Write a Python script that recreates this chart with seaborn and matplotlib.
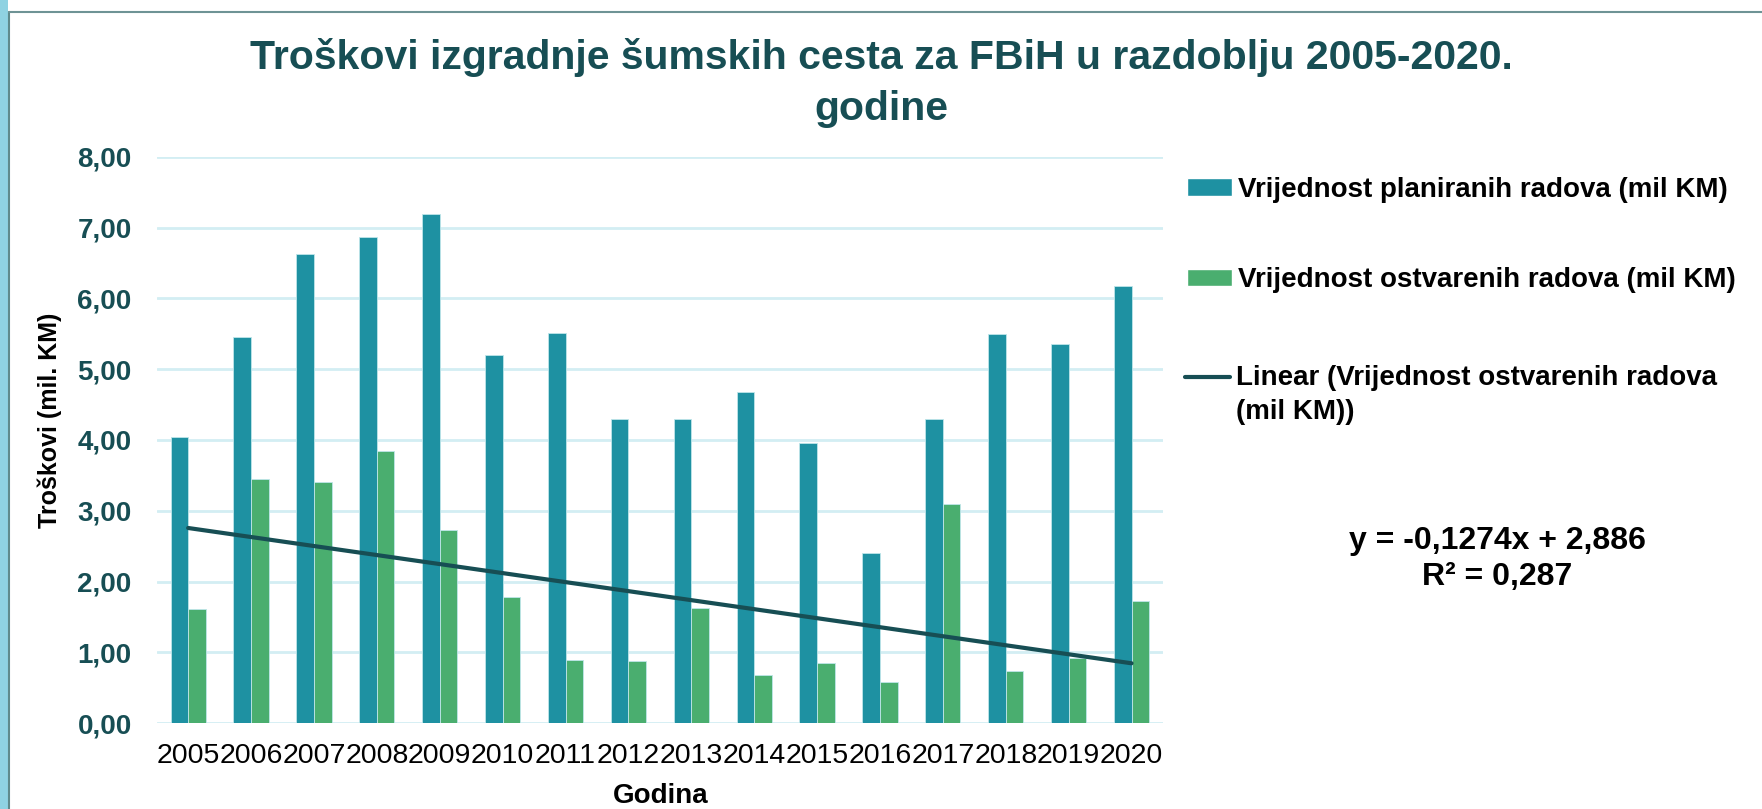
import numpy as np
import pandas as pd
import matplotlib.pyplot as plt
from matplotlib.patches import Patch, Rectangle
from matplotlib.lines import Line2D
from matplotlib.legend_handler import HandlerLine2D
import seaborn as sns

sns.set_theme(style="white")
plt.rcParams['font.family'] = ['Liberation Sans', 'DejaVu Sans']

# ---------- data ----------
years = ['2005', '2006', '2007', '2008', '2009', '2010', '2011', '2012',
         '2013', '2014', '2015', '2016', '2017', '2018', '2019', '2020']
planned = [4.04, 5.45, 6.63, 6.87, 7.19, 5.20, 5.51, 4.29,
           4.30, 4.68, 3.96, 2.41, 4.30, 5.50, 5.35, 6.17]
realized = [1.61, 3.45, 3.40, 3.84, 2.73, 1.79, 0.90, 0.88,
            1.63, 0.68, 0.85, 0.59, 3.10, 0.74, 0.92, 1.73]
series = ['Vrijednost planiranih radova (mil KM)',
          'Vrijednost ostvarenih radova (mil KM)']
trend_label = 'Linear (Vrijednost ostvarenih radova\n(mil KM))'
y_ticks = [0, 1, 2, 3, 4, 5, 6, 7, 8]
slope, intercept, r2 = -0.1274, 2.886, 0.287

BLUE = '#1e91a2'
GREEN = '#4aae6f'
DARK = '#174e54'
GRID = '#d3eef3'

df = pd.DataFrame({
    'Godina': years * 2,
    'serija': [series[0]] * len(years) + [series[1]] * len(years),
    'vrijednost': planned + realized,
})

W, H = 1762, 809
fig = plt.figure(figsize=(W / 100, H / 100), dpi=100)
ax = fig.add_axes([156.7 / W, 1 - 723.3 / H, (1163 - 156.7) / W, (723.3 - 156.7) / H])

sns.barplot(data=df, x='Godina', y='vrijednost', hue='serija', hue_order=series,
            palette={series[0]: BLUE, series[1]: GREEN}, width=0.56, gap=0,
            saturation=1, edgecolor='#bfe6ea', linewidth=0.6, legend=False, ax=ax)

# linear trend of realized values
sns.regplot(x=np.arange(len(years)), y=realized, scatter=False, ci=None,
            truncate=True, color=DARK, line_kws={'linewidth': 3}, ax=ax)

ax.set_xlim(-0.5, len(years) - 0.5)
ax.set_ylim(0, 8)
ax.set_yticks(y_ticks)
ax.set_yticklabels([f'{v:.2f}'.replace('.', ',') for v in y_ticks],
                   fontsize=20, fontweight='bold', color=DARK)
ax.set_xticks(range(len(years)))
ax.set_xticklabels(years, fontsize=20.5, color='black')
ax.tick_params(axis='y', length=0, pad=18)
ax.tick_params(axis='x', length=0, pad=14)
ax.yaxis.grid(True, color=GRID, linewidth=2)
ax.set_axisbelow(True)
for s in ax.spines.values():
    s.set_visible(False)

ax.set_xlabel('Godina', fontsize=20, fontweight='bold', color='black')
ax.set_ylabel('Troškovi (mil. KM)', fontsize=18, fontweight='bold', color='black')
ax.xaxis.label.set_va('center')
ax.yaxis.label.set_va('center')
ax.xaxis.set_label_coords(0.501, -0.128)
ax.yaxis.set_label_coords(-0.106, 0.534)

fig.text(0.5, 1 - 83 / H, 'Troškovi izgradnje šumskih cesta za FBiH u razdoblju 2005-2020.\ngodine',
         ha='center', va='center', fontsize=29.5, fontweight='bold', color=DARK,
         linespacing=1.42)


class TopLineHandler(HandlerLine2D):
    # put the legend line level with the first text line
    def create_artists(self, legend, orig_handle, xdescent, ydescent, width,
                       height, fontsize, trans):
        arts = super().create_artists(legend, orig_handle, xdescent, ydescent,
                                      width, height, fontsize, trans)
        for a in arts:
            a.set_ydata(np.asarray(a.get_ydata()) + 13.3)
        return arts


leg_kw = dict(frameon=False, prop={'weight': 'bold', 'size': 20}, labelcolor='black',
              handlelength=1.62, handleheight=0.6, handletextpad=0.2,
              borderpad=0, borderaxespad=0)
leg1 = fig.legend([Patch(facecolor=BLUE), Patch(facecolor=GREEN)], series,
                  loc='center left', bbox_to_anchor=(1187 / W, 1 - 235 / H),
                  labelspacing=2.32, **leg_kw)
trend_handle = Line2D([], [], color=DARK, linewidth=3)
leg2 = fig.legend([trend_handle], [trend_label], loc='center left',
                  bbox_to_anchor=(1185 / W, 1 - 395 / H),
                  handler_map={trend_handle: TopLineHandler()}, **leg_kw)
for t in leg2.get_texts():
    t.set_linespacing(1.41)

eq = f'y = {slope:.4f}x + {intercept:.3f}\nR² = {r2:.3f}'.replace('.', ',')
fig.text(1497 / W, 1 - 559 / H, eq, ha='center', va='center', fontsize=23,
         fontweight='bold', color='black', linespacing=1.25)

# slide frame
fig.patches.append(Rectangle((0, 0), 8 / W, 1, transform=fig.transFigure,
                             facecolor='#8fd2e2', edgecolor='none'))
fig.lines.append(Line2D([9 / W, 9 / W], [0, 1 - 12 / H], transform=fig.transFigure,
                        color='#5f8a8c', linewidth=1.5))
fig.lines.append(Line2D([9 / W, 1], [1 - 12 / H, 1 - 12 / H], transform=fig.transFigure,
                        color='#6e9395', linewidth=1.5))

fig.savefig('out.png', dpi=100)
